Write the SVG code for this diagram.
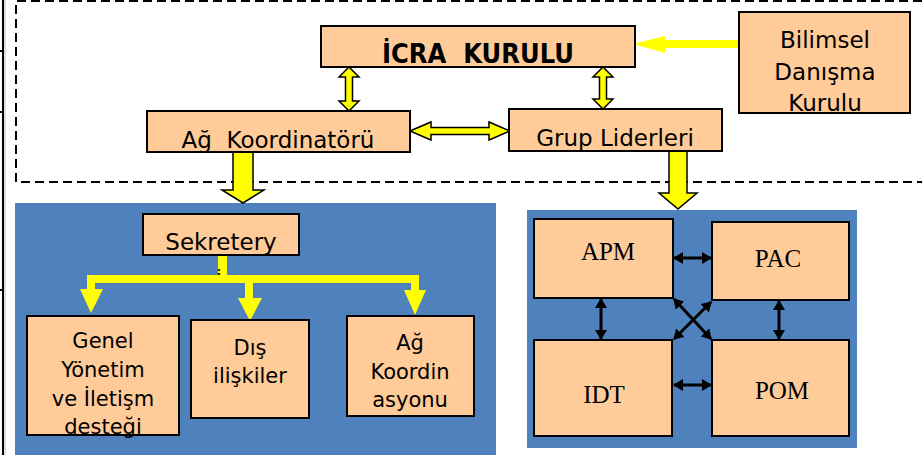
<svg xmlns="http://www.w3.org/2000/svg" width="922" height="455" viewBox="0 0 922 455">
<style>
.box{fill:#FFCC99;stroke:#000;stroke-width:2}
.panel{fill:#4F81BD}
.t{font-family:"DejaVu Sans","Verdana",sans-serif;font-size:23px;fill:#000;text-anchor:middle}
.ts{font-family:"DejaVu Sans","Verdana",sans-serif;font-size:21px;fill:#000;text-anchor:middle}
.tb{font-family:"DejaVu Sans","Verdana",sans-serif;font-size:26px;font-weight:bold;fill:#000;text-anchor:middle}
.tr{font-family:"Liberation Serif","Times New Roman",serif;font-size:25px;fill:#000;text-anchor:middle}
.ya{fill:#FFFF00;stroke:#000;stroke-width:1.5;stroke-linejoin:miter}
.yf{fill:#FFFF00}
.ba{stroke:#000;stroke-width:3;fill:none;marker-start:url(#ah);marker-end:url(#ah)}
</style>
<defs>
<marker id="ah" viewBox="0 0 10 12" refX="9" refY="6" markerWidth="10" markerHeight="12" markerUnits="userSpaceOnUse" orient="auto-start-reverse">
<path d="M0,0 L10,6 L0,12 Z" fill="#000"/>
</marker>
</defs>
<rect width="922" height="455" fill="#fff"/>
<!-- left edge -->
<line x1="3" y1="0" x2="3" y2="455" stroke="#000" stroke-width="2"/>
<line x1="5" y1="0" x2="5" y2="455" stroke="#bbb" stroke-width="1"/>
<path d="M0,51 H3 M0,112 H3 M0,290 H3" stroke="#000" stroke-width="2"/>
<!-- dashed frame -->
<path d="M922,1 H16 V182 H922" fill="none" stroke="#000" stroke-width="2" stroke-dasharray="9,5"/>
<!-- panels -->
<rect class="panel" x="15" y="203" width="481" height="252"/>
<rect class="panel" x="527" y="210" width="330" height="238"/>

<g id="connectors">
<polygon class="yf" points="743,40 665,40 665,36 633,44 665,53 665,48 743,48"/>
<polygon class="ya" points="349,67 359,77 352.5,77 352.5,101 359,101 349,111 339,101 345.5,101 345.5,77 339,77"/>
<polygon class="ya" points="603,67 613,77 606.5,77 606.5,99 613,99 603,109 593,99 599.5,99 599.5,77 593,77"/>
<polygon class="ya" points="410,131 431,122 431,127.5 489,127.5 489,122 510,131 489,140 489,134.5 431,134.5 431,140"/>
<polygon class="ya" points="233,151 253,151 253,190 264,190 243,203 222,190 233,190"/>
<polygon class="ya" points="669,151 687,151 687,193 697,193 678,209 659,193 669,193"/>
<!-- sekretery branches -->
<rect class="yf" x="218" y="255" width="9" height="28"/>
<rect class="yf" x="87" y="275" width="332" height="8"/>
<rect class="yf" x="87" y="275" width="8" height="15"/>
<polygon class="yf" points="80,289 103,289 91,313"/>
<rect class="yf" x="245" y="282" width="8" height="17"/>
<polygon class="yf" points="238,298 262,298 250,321"/>
<rect class="yf" x="411" y="275" width="8" height="16"/>
<polygon class="yf" points="404,290 426,290 415,315"/>
<!-- black arrows -->
<line class="ba" x1="674" y1="258" x2="711" y2="258"/>
<line class="ba" x1="674" y1="385" x2="711" y2="385"/>
<line class="ba" x1="601" y1="299" x2="601" y2="339"/>
<line class="ba" x1="779" y1="301" x2="779" y2="339"/>
<line class="ba" x1="674" y1="299" x2="711" y2="339"/>
<line class="ba" x1="711" y1="302" x2="674" y2="339"/>
</g>
<text x="217" y="275" font-family="DejaVu Sans, sans-serif" font-size="10" font-weight="bold" fill="#000">:</text>

<g id="icra">
<rect class="box" x="321" y="26" width="314" height="41"/>
<text class="tb" x="478" y="63" xml:space="preserve" textLength="192" lengthAdjust="spacingAndGlyphs">İCRA  KURULU</text>
</g>
<g id="bilimsel">
<rect class="box" x="739" y="12" width="171" height="101"/>
<text class="t" x="825" y="48">Bilimsel</text>
<text class="t" x="825" y="80">Danışma</text>
<text class="t" x="825" y="111">Kurulu</text>
</g>
<g id="ag-koordinatoru">
<rect class="box" x="147" y="111" width="263" height="41"/>
<text class="t" x="278" y="148" xml:space="preserve">Ağ  Koordinatörü</text>
</g>
<g id="grup-liderleri">
<rect class="box" x="509" y="109" width="213" height="42"/>
<text class="t" x="615" y="146">Grup Liderleri</text>
</g>
<g id="sekretery">
<rect class="box" x="143" y="214" width="156" height="41"/>
<text class="t" x="221" y="250">Sekretery</text>
</g>
<g id="genel">
<rect class="box" x="27" y="316" width="152" height="119"/>
<text class="ts" x="103" y="348">Genel</text>
<text class="ts" x="103" y="377">Yönetim</text>
<text class="ts" x="103" y="406">ve İletişm</text>
<text class="ts" x="103" y="434">desteği</text>
</g>
<g id="dis">
<rect class="box" x="191" y="320" width="118" height="98"/>
<text class="ts" x="250" y="355">Dış</text>
<text class="ts" x="250" y="383">ilişkiler</text>
</g>
<g id="ag-koordin">
<rect class="box" x="347" y="316" width="127" height="100"/>
<text class="ts" x="410" y="350">Ağ</text>
<text class="ts" x="410" y="379">Koordin</text>
<text class="ts" x="410" y="407">asyonu</text>
</g>
<g id="apm">
<rect class="box" x="534" y="219" width="139" height="79" stroke-width="1.5"/>
<text class="tr" x="608" y="260">APM</text>
</g>
<g id="pac">
<rect class="box" x="712" y="222" width="137" height="78" stroke-width="1.5"/>
<text class="tr" x="778" y="267">PAC</text>
</g>
<g id="idt">
<rect class="box" x="534" y="340" width="138" height="96" stroke-width="1.5"/>
<text class="tr" x="604" y="403">IDT</text>
</g>
<g id="pom">
<rect class="box" x="712" y="340" width="137" height="96" stroke-width="1.5"/>
<text class="tr" x="782" y="399">POM</text>
</g>
</svg>
